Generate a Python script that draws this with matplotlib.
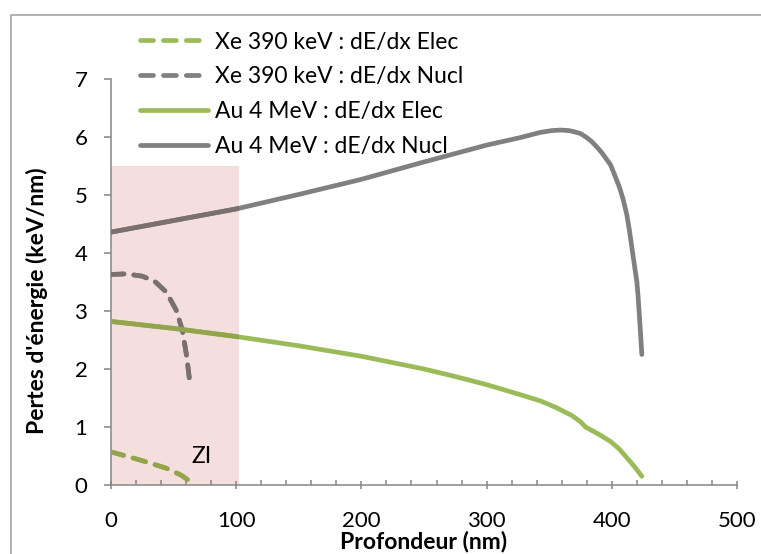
import matplotlib
matplotlib.use('Agg')
import matplotlib.pyplot as plt
from matplotlib.patches import Rectangle
from matplotlib.ticker import MultipleLocator

plt.rcParams['font.family'] = ['Lato', 'DejaVu Sans']

GREEN = '#9BBB59'
GRAY = '#808080'
PINK = '#F4DFDE'
AXIS = '#868686'

# Au 4 MeV, nuclear stopping
au_nucl_depth = [0, 50, 100, 150, 200, 250, 300, 327, 343, 352, 359, 366, 370, 375, 380, 384, 388,
                 392, 395, 399, 402, 406, 409, 412, 414, 416, 418, 420, 421, 422, 423, 424]
au_nucl = [4.36, 4.56, 4.76, 5.01, 5.27, 5.57, 5.86, 5.99, 6.08, 6.11, 6.12, 6.11, 6.09, 6.06, 5.99, 5.92, 5.83,
           5.73, 5.64, 5.52, 5.36, 5.14, 4.93, 4.66, 4.40, 4.10, 3.80, 3.51, 3.25, 2.93, 2.60, 2.25]

# Au 4 MeV, electronic stopping
au_elec_depth = [0, 50, 100, 150, 200, 250, 275, 300, 325, 343, 355, 368, 375, 379, 390, 399, 406, 412, 418, 424]
au_elec = [2.82, 2.70, 2.56, 2.40, 2.22, 2.00, 1.87, 1.73, 1.57, 1.45, 1.34, 1.20, 1.09, 1.00, 0.87, 0.75, 0.62, 0.47, 0.32, 0.15]

# Xe 390 keV
xe_nucl_depth = [0, 12, 25, 35, 44, 52, 57, 60.5, 63]
xe_nucl = [3.63, 3.64, 3.60, 3.51, 3.33, 3.02, 2.67, 2.21, 1.76]
xe_elec_depth = [0, 12, 28, 44, 56, 64]
xe_elec = [0.57, 0.50, 0.40, 0.29, 0.17, 0.05]

# irradiated zone
zi_limits = [0, 102]
zi_height = 5.5

x_ticks = [0, 100, 200, 300, 400, 500]
y_ticks = [0, 1, 2, 3, 4, 5, 6, 7]


def multiply(c1, c2):
    a = matplotlib.colors.to_rgb(c1)
    b = matplotlib.colors.to_rgb(c2)
    return tuple(x * y for x, y in zip(a, b))


fig = plt.figure(figsize=(7.61, 5.54), dpi=100, facecolor='white')
ax = fig.add_axes([111 / 761, 69 / 554, 626 / 761, 406 / 554])

# outer chart frame (cut by the picture on the right and bottom)
frame = Rectangle((10.5 / 761, -0.1), 2, (554 - 15.5) / 554 + 0.1, transform=fig.transFigure,
                  fill=False, edgecolor='#A6A6A6', lw=1.2, clip_on=False)
fig.add_artist(frame)

zone = Rectangle((zi_limits[0], 0), zi_limits[1] - zi_limits[0], zi_height,
                 facecolor=PINK, edgecolor='none', zorder=1)
ax.add_patch(zone)

dash = (0, (2.75, 2.1))
series = [
    (xe_elec_depth, xe_elec, GREEN, dash, 'Xe 390 keV : dE/dx Elec'),
    (xe_nucl_depth, xe_nucl, GRAY, dash, 'Xe 390 keV : dE/dx Nucl'),
    (au_elec_depth, au_elec, GREEN, '-', 'Au 4 MeV : dE/dx Elec'),
    (au_nucl_depth, au_nucl, GRAY, '-', 'Au 4 MeV : dE/dx Nucl'),
]

handles = []
for xs, ys, col, ls, lab in series:
    line, = ax.plot(xs, ys, color=col, ls=ls, lw=3.4, label=lab, zorder=2,
                    solid_capstyle='round', dash_capstyle='round', solid_joinstyle='round')
    handles.append(line)
    # the pink zone darkens what lies under it
    over, = ax.plot(xs, ys, color=multiply(col, PINK), ls=ls, lw=3.4, zorder=3,
                    solid_capstyle='round', dash_capstyle='round', solid_joinstyle='round')
    over.set_clip_path(zone)

ax.text(72, 0.49, 'ZI', ha='center', va='center', fontsize=16.5, zorder=4)

ax.set_xlim(0, 500)
ax.set_ylim(0, 7)
ax.set_xticks(x_ticks)
ax.set_yticks(y_ticks)
ax.xaxis.set_minor_locator(MultipleLocator(20))

for s in ['top', 'right']:
    ax.spines[s].set_visible(False)
for s in ['left', 'bottom']:
    ax.spines[s].set_color(AXIS)
    ax.spines[s].set_linewidth(1.1)

ax.tick_params(axis='y', direction='out', length=5, width=1.1, color=AXIS, pad=12, labelsize=16)
ax.tick_params(axis='x', which='major', direction='inout', length=6, width=1.1, color=AXIS, pad=15.5, labelsize=16)
ax.tick_params(axis='x', which='minor', direction='in', length=3.5, width=1.1, color=AXIS)

ax.set_xlabel('Profondeur (nm)', fontsize=16.5, fontweight='bold', va='center')
ax.xaxis.set_label_coords(0.5, (485 - 541) / 406)
fig.text(37 / 761, (554 - 301) / 554, "Pertes d'énergie (keV/nm)", rotation=90,
         ha='center', va='center', fontsize=16.5, fontweight='bold')

fig.legend(handles=handles, loc='upper left', bbox_to_anchor=(140 / 761, (554 - 31.5) / 554),
           frameon=False, fontsize=16.5, handlelength=2.97, handletextpad=0.3,
           labelspacing=0.61, borderpad=0, borderaxespad=0)

fig.savefig('out.png', dpi=100, facecolor='white')
